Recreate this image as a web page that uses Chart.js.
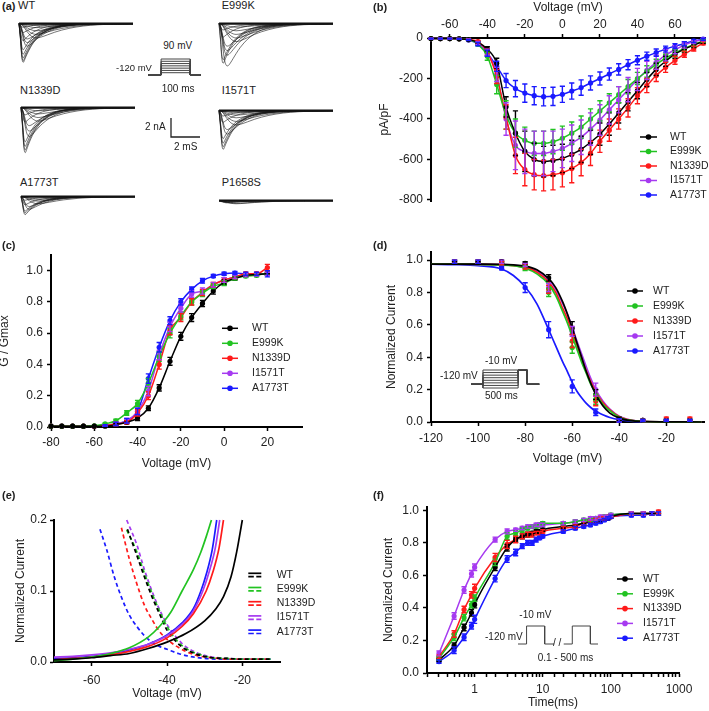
<!DOCTYPE html>
<html>
<head>
<meta charset="utf-8">
<script src="https://cdn.jsdelivr.net/npm/chart.js@4.4.1/dist/chart.umd.min.js"></script>
<style>
  body { margin: 0; background: #fff; }
  #fig { position: relative; width: 709px; height: 711px; overflow: hidden; font-family: "Liberation Sans", Arial, sans-serif; color: #222; }
  #fig canvas { position: absolute; }
  .t { position: absolute; white-space: nowrap; line-height: 1; }
  .p { font-weight: bold; font-size: 11px; }
  .f11 { font-size: 11px; }
  .f10 { font-size: 10px; }
</style>
</head>
<body>
<div id="fig">
  <canvas id="trWT" width="118" height="58" style="left:17px;top:18px"></canvas>
  <canvas id="trE999K" width="118" height="58" style="left:217px;top:18px"></canvas>
  <canvas id="trN1339D" width="118" height="58" style="left:19px;top:102px"></canvas>
  <canvas id="trI1571T" width="118" height="58" style="left:217px;top:105px"></canvas>
  <canvas id="trA1773T" width="118" height="58" style="left:19px;top:191px"></canvas>
  <canvas id="trP1658S" width="118" height="58" style="left:217px;top:195px"></canvas>
  <canvas id="protA" width="57" height="20" style="left:146px;top:57px"></canvas>
  <canvas id="scaleBar" width="33" height="23" style="left:169px;top:116px"></canvas>

  <canvas id="ivChart" width="354" height="240" style="left:355px;top:0px"></canvas>
  <canvas id="actChart" width="355" height="240" style="left:0px;top:240px"></canvas>
  <canvas id="inactChart" width="354" height="240" style="left:355px;top:240px"></canvas>
  <canvas id="winChart" width="355" height="231" style="left:0px;top:480px"></canvas>
  <canvas id="recChart" width="354" height="231" style="left:355px;top:480px"></canvas>
  <canvas id="protD" width="74" height="22" style="left:469px;top:368px"></canvas>
  <canvas id="protF" width="84" height="22" style="left:516px;top:624px"></canvas>

  <div class="t p" style="left:2px;top:0.6px">(a)</div>
  <div class="t f11" style="left:18px;top:0.4px">WT</div>
  <div class="t f11" style="left:221.7px;top:0.4px">E999K</div>
  <div class="t f11" style="left:20px;top:85px">N1339D</div>
  <div class="t f11" style="left:221.7px;top:85px">I1571T</div>
  <div class="t f11" style="left:20px;top:176.6px">A1773T</div>
  <div class="t f11" style="left:221.7px;top:176.6px">P1658S</div>
  <div class="t f10" style="left:163.3px;top:41px">90 mV</div>
  <div class="t" style="left:116px;top:62.6px;font-size:9.5px">-120 mV</div>
  <div class="t f10" style="left:161.7px;top:84.4px">100 ms</div>
  <div class="t f10" style="left:145px;top:122.4px">2 nA</div>
  <div class="t f10" style="left:174px;top:141.8px">2 mS</div>

  <div class="t p" style="left:373px;top:1.6px">(b)</div>
  <div class="t p" style="left:2px;top:239.6px">(c)</div>
  <div class="t p" style="left:373px;top:239.6px">(d)</div>
  <div class="t p" style="left:2px;top:490px">(e)</div>
  <div class="t p" style="left:373px;top:490px">(f)</div>

  <div class="t f10" style="left:485px;top:355.8px">-10 mV</div>
  <div class="t f10" style="left:440px;top:371.1px">-120 mV</div>
  <div class="t f10" style="left:485px;top:391.1px">500 ms</div>

  <div class="t f10" style="left:519.3px;top:610.1px">-10 mV</div>
  <div class="t f10" style="left:485px;top:631.8px">-120 mV</div>
  <div class="t f10" style="left:553px;top:638.1px">/ /</div>
  <div class="t f10" style="left:537.7px;top:653.4px">0.1 - 500 ms</div>
</div>

<script>
// ---------- data ----------
const seriesNames = ["WT", "E999K", "N1339D", "I1571T", "A1773T"];
const seriesColors = ["#000000", "#22c322", "#ff1a1a", "#a63af0", "#1a1aff"];

// (a) current traces: time in ms, peaks in nA with shape index
const traceTime = [0, 0.1, 0.2, 0.3, 0.4, 0.5, 0.6, 0.8, 1.0, 1.2, 1.5, 2.0, 2.5, 3.0, 4.0, 5.0, 6.0, 8.0];
const shapeFast = [0, 0.4, 0.88, 1.0, 0.93, 0.84, 0.76, 0.62, 0.5, 0.41, 0.3, 0.18, 0.11, 0.065, 0.025, 0.01, 0.004, 0];
const shapeMid = [0, 0.1, 0.35, 0.65, 0.88, 0.98, 1.0, 0.93, 0.82, 0.71, 0.56, 0.37, 0.24, 0.15, 0.06, 0.025, 0.01, 0];
const shapeSlow = [0, 0.02, 0.08, 0.18, 0.32, 0.47, 0.6, 0.82, 0.95, 1.0, 0.95, 0.78, 0.6, 0.45, 0.24, 0.12, 0.06, 0.01];
const traceShapes = [shapeFast, shapeMid, shapeSlow];
const traceBaseX = [0, 8];
const traceBaseY = [0, 0];

const tracesWT = [[4.3, 0], [4.1, 0], [3.8, 0], [3.4, 0], [2.9, 0], [2.5, 1], [2.1, 1], [1.7, 1], [1.6, 2], [1.2, 2], [0.8, 2], [0.45, 2], [0.2, 2], [1.9, 0], [1.0, 0], [0.4, 0]];
const tracesE999K = [[4.7, 1], [4.4, 0], [4.0, 0], [3.5, 1], [3.0, 1], [2.5, 1], [2.0, 2], [1.6, 2], [1.2, 2], [0.8, 2], [0.4, 2], [1.5, 0], [0.7, 0]];
const tracesN1339D = [[5.0, 0], [4.7, 0], [4.3, 0], [3.8, 0], [3.2, 1], [2.6, 1], [2.0, 1], [1.5, 2], [1.1, 2], [0.7, 2], [0.35, 2], [1.6, 0], [0.8, 0]];
const tracesI1571T = [[4.3, 0], [4.0, 0], [3.6, 0], [3.1, 0], [2.6, 1], [2.1, 1], [1.6, 2], [1.2, 2], [0.8, 2], [0.5, 2], [0.25, 2], [1.3, 0], [0.6, 0]];
const tracesA1773T = [[2.0, 0], [1.8, 0], [1.6, 0], [1.4, 1], [1.1, 1], [0.8, 2], [0.5, 2], [0.3, 2], [0.9, 0], [0.4, 0]];
const tracesP1658S = [[0.35, 2], [0.3, 2], [0.25, 1], [0.2, 1], [0.15, 0], [0.1, 0]];

// (a) step protocol and scale bar
const stepProtX = [-45, 0, 0, 100, 100, 137];
const stepHold = -120;
const stepLevels = [-90, -60, -30, 0, 30, 60, 90];
const scaleBarX = [0, 0, 2];
const scaleBarY = [2, 0, 0];

// tick values
const ivVoltTicks = [-60, -40, -20, 0, 20, 40, 60];
const ivCurrentTicks = [-800, -600, -400, -200, 0];
const actVoltTicks = [-80, -60, -40, -20, 0, 20];
const inactVoltTicks = [-120, -100, -80, -60, -40, -20];
const winVoltTicks = [-60, -40, -20];
const fractionTicks = [0, 0.2, 0.4, 0.6, 0.8, 1.0];
const winTicks = [0, 0.1, 0.2];

// (b) I-V
const ivVolts = [-70, -65, -60, -55, -50, -45, -40, -35, -30, -25, -20, -15, -10, -5, 0, 5, 10, 15, 20, 25, 30, 35, 40, 45, 50, 55, 60, 65, 70, 75];
const ivWT = [-3, -3, -3, -4, -8, -22, -55, -125, -340, -470, -560, -600, -610, -605, -595, -575, -550, -515, -475, -425, -370, -315, -260, -205, -155, -115, -80, -55, -35, -18];
const ivE999K = [-3, -3, -3, -4, -8, -30, -90, -230, -380, -470, -505, -520, -520, -512, -495, -470, -440, -400, -360, -320, -280, -240, -200, -165, -130, -100, -75, -52, -32, -15];
const ivN1339D = [-3, -3, -3, -4, -8, -18, -70, -190, -390, -580, -650, -675, -680, -675, -665, -645, -615, -570, -510, -455, -400, -345, -285, -235, -185, -145, -110, -80, -52, -25];
const ivI1571T = [-3, -3, -3, -4, -8, -25, -70, -180, -400, -530, -560, -570, -570, -560, -545, -520, -490, -450, -405, -355, -305, -255, -205, -160, -120, -85, -58, -35, -18, -8];
const ivA1773T = [-3, -3, -3, -4, -10, -30, -75, -140, -210, -250, -272, -285, -290, -288, -278, -262, -245, -222, -200, -178, -155, -132, -110, -90, -72, -55, -40, -28, -15, -6];
const ivWTErr = [2, 2, 2, 2, 3, 6, 12, 25, 50, 110, 100, 80, 75, 75, 70, 70, 65, 60, 55, 55, 50, 45, 40, 35, 30, 25, 20, 15, 12, 8];
const ivE999KErr = [2, 2, 2, 2, 3, 8, 20, 45, 70, 70, 65, 60, 60, 60, 60, 55, 55, 50, 50, 45, 40, 35, 30, 28, 25, 20, 18, 15, 10, 6];
const ivN1339DErr = [2, 2, 2, 2, 3, 6, 15, 35, 60, 90, 80, 75, 75, 75, 70, 70, 65, 60, 55, 55, 50, 45, 40, 35, 30, 25, 20, 15, 12, 8];
const ivI1571TErr = [2, 2, 2, 2, 3, 8, 15, 35, 80, 120, 110, 110, 110, 100, 95, 90, 85, 80, 75, 70, 65, 60, 55, 45, 35, 28, 20, 15, 10, 6];
const ivA1773TErr = [2, 2, 2, 2, 3, 8, 15, 25, 35, 40, 45, 45, 45, 45, 40, 40, 38, 35, 32, 30, 28, 25, 22, 20, 18, 15, 12, 10, 8, 5];

// (c) activation G/Gmax
const actVolts = [-80, -75, -70, -65, -60, -55, -50, -45, -40, -35, -30, -25, -20, -15, -10, -5, 0, 5, 10, 15, 20];
const actWT = [0.005, 0.005, 0.005, 0.005, 0.005, 0.005, 0.015, 0.03, 0.057, 0.12, 0.25, 0.42, 0.58, 0.7, 0.79, 0.87, 0.925, 0.95, 0.97, 0.975, 0.98];
const actE999K = [0.005, 0.005, 0.005, 0.005, 0.008, 0.02, 0.04, 0.09, 0.15, 0.28, 0.45, 0.6, 0.71, 0.8, 0.855, 0.9, 0.92, 0.95, 0.965, 0.97, 0.985];
const actN1339D = [0.005, 0.005, 0.005, 0.005, 0.005, 0.01, 0.02, 0.03, 0.09, 0.2, 0.4, 0.62, 0.7, 0.8, 0.86, 0.91, 0.94, 0.96, 0.98, 0.98, 1.02];
const actI1571T = [0.005, 0.005, 0.005, 0.005, 0.005, 0.01, 0.02, 0.04, 0.1, 0.23, 0.46, 0.64, 0.76, 0.85, 0.87, 0.91, 0.94, 0.96, 0.97, 0.975, 0.98];
const actA1773T = [0.005, 0.005, 0.005, 0.005, 0.005, 0.01, 0.02, 0.04, 0.1, 0.31, 0.51, 0.68, 0.8, 0.88, 0.935, 0.965, 0.98, 0.985, 0.98, 0.98, 0.98];
const actWTErr = [0, 0, 0, 0, 0, 0, 0.005, 0.01, 0.015, 0.015, 0.02, 0.025, 0.025, 0.025, 0.02, 0.02, 0.015, 0.01, 0.01, 0.01, 0.01];
const actE999KErr = [0, 0, 0, 0, 0, 0.005, 0.01, 0.015, 0.02, 0.03, 0.03, 0.03, 0.025, 0.02, 0.02, 0.015, 0.015, 0.01, 0.01, 0.01, 0.015];
const actN1339DErr = [0, 0, 0, 0, 0, 0.005, 0.01, 0.01, 0.02, 0.025, 0.03, 0.03, 0.025, 0.02, 0.02, 0.015, 0.015, 0.01, 0.01, 0.01, 0.02];
const actI1571TErr = [0, 0, 0, 0, 0, 0.005, 0.01, 0.015, 0.02, 0.03, 0.03, 0.03, 0.025, 0.02, 0.02, 0.015, 0.015, 0.01, 0.01, 0.01, 0.01];
const actA1773TErr = [0, 0, 0, 0, 0, 0.005, 0.01, 0.015, 0.02, 0.03, 0.03, 0.025, 0.02, 0.015, 0.015, 0.01, 0.01, 0.01, 0.01, 0.01, 0.02];

// (d) steady-state inactivation
const inactVolts = [-110, -100, -90, -80, -70, -60, -50, -40, -30, -20, -10];
const inactWT = [0.99, 0.99, 0.99, 0.98, 0.89, 0.58, 0.17, 0.02, 0.01, 0.01, 0.01];
const inactE999K = [0.99, 0.99, 0.98, 0.95, 0.8, 0.46, 0.14, 0.01, 0.01, 0.01, 0.01];
const inactN1339D = [0.99, 0.99, 0.98, 0.96, 0.82, 0.5, 0.13, 0.01, 0.01, 0.02, 0.02];
const inactI1571T = [0.99, 0.99, 0.99, 0.97, 0.83, 0.56, 0.2, 0.01, 0.01, 0.01, 0.01];
const inactA1773T = [0.99, 0.99, 0.95, 0.83, 0.57, 0.22, 0.06, 0.01, 0.01, 0.01, 0.01];
const inactWTErr = [0.01, 0.01, 0.01, 0.01, 0.02, 0.04, 0.03, 0.01, 0.005, 0.005, 0.005];
const inactE999KErr = [0.01, 0.01, 0.01, 0.015, 0.025, 0.035, 0.03, 0.01, 0.005, 0.005, 0.005];
const inactN1339DErr = [0.01, 0.01, 0.01, 0.015, 0.025, 0.04, 0.03, 0.01, 0.005, 0.01, 0.01];
const inactI1571TErr = [0.01, 0.01, 0.01, 0.01, 0.025, 0.03, 0.04, 0.01, 0.005, 0.005, 0.005];
const inactA1773TErr = [0.01, 0.01, 0.01, 0.03, 0.05, 0.04, 0.02, 0.01, 0.005, 0.005, 0.005];
const inactFitVolts = [-120, -110, -100, -90, -85, -80, -75, -70, -67, -64, -62, -60, -58, -56, -54, -52, -50, -47, -44, -40, -35, -30, -20, -5];
const inactFitWT = [0.975, 0.975, 0.975, 0.973, 0.97, 0.963, 0.94, 0.885, 0.83, 0.74, 0.665, 0.58, 0.49, 0.4, 0.31, 0.235, 0.17, 0.1, 0.055, 0.024, 0.008, 0.003, 0.001, 0];
const inactFitE999K = [0.975, 0.975, 0.974, 0.97, 0.965, 0.95, 0.915, 0.85, 0.78, 0.68, 0.61, 0.53, 0.45, 0.37, 0.3, 0.23, 0.18, 0.11, 0.07, 0.03, 0.01, 0.004, 0.001, 0];
const inactFitN1339D = [0.975, 0.975, 0.974, 0.971, 0.966, 0.955, 0.925, 0.865, 0.8, 0.7, 0.635, 0.555, 0.475, 0.39, 0.315, 0.245, 0.185, 0.12, 0.075, 0.033, 0.011, 0.004, 0.001, 0];
const inactFitI1571T = [0.975, 0.975, 0.975, 0.972, 0.968, 0.958, 0.932, 0.88, 0.82, 0.73, 0.665, 0.585, 0.5, 0.42, 0.34, 0.265, 0.2, 0.13, 0.08, 0.036, 0.012, 0.004, 0.001, 0];
const inactFitA1773T = [0.975, 0.972, 0.965, 0.945, 0.905, 0.835, 0.73, 0.57, 0.47, 0.37, 0.31, 0.245, 0.19, 0.15, 0.115, 0.088, 0.066, 0.045, 0.028, 0.014, 0.005, 0.002, 0.001, 0];
const inactProtX = [-170, 0, 0, 500, 500, 630, 630, 800];
const inactHold = -120;
const inactTest = -10;
const inactLevels = [-150, -130, -110, -90, -70, -50, -30, -10];

// (e) window currents: solid = activation, dashed = inactivation
const winActWTV = [-70, -65, -60, -55, -50, -45, -40, -35, -30, -27, -25, -23, -21.5, -20];
const winActWT = [0.003, 0.004, 0.006, 0.009, 0.012, 0.019, 0.028, 0.04, 0.058, 0.075, 0.092, 0.12, 0.155, 0.2];
const winActE999KV = [-70, -65, -60, -55, -50, -45, -42, -39, -36, -33, -31, -29.5, -28.2];
const winActE999K = [0.002, 0.004, 0.007, 0.012, 0.02, 0.035, 0.05, 0.07, 0.1, 0.13, 0.155, 0.178, 0.2];
const winActN1339DV = [-70, -65, -60, -55, -50, -45, -40, -36, -33, -29.6, -27.8, -26.2, -25];
const winActN1339D = [0.003, 0.005, 0.007, 0.01, 0.015, 0.022, 0.034, 0.05, 0.068, 0.1, 0.127, 0.16, 0.2];
const winActI1571TV = [-70, -65, -60, -55, -50, -45, -40, -36, -33, -30.5, -28.8, -27.2, -26];
const winActI1571T = [0.007, 0.008, 0.01, 0.013, 0.018, 0.025, 0.037, 0.053, 0.072, 0.1, 0.127, 0.16, 0.2];
const winActA1773TV = [-70, -65, -60, -55, -50, -45, -40, -36, -33, -31, -29.5, -28, -26.8];
const winActA1773T = [0.005, 0.006, 0.008, 0.012, 0.017, 0.025, 0.038, 0.055, 0.075, 0.1, 0.125, 0.158, 0.2];
const winInWTV = [-50.5, -48, -46, -44, -42, -40, -38, -36, -34, -31, -28, -24, -20, -12.5];
const winInWT = [0.187, 0.15, 0.12, 0.092, 0.068, 0.045, 0.031, 0.021, 0.015, 0.009, 0.006, 0.005, 0.004, 0.004];
const winInE999KV = [-50.7, -48, -46, -44, -42, -40, -38, -36, -34, -31, -28, -24, -20, -12.5];
const winInE999K = [0.186, 0.155, 0.125, 0.097, 0.072, 0.05, 0.034, 0.023, 0.016, 0.01, 0.006, 0.005, 0.004, 0.004];
const winInN1339DV = [-52.1, -50, -48, -46, -44, -42, -40, -38, -35, -32, -28, -24, -20, -12.5];
const winInN1339D = [0.189, 0.145, 0.11, 0.08, 0.06, 0.043, 0.032, 0.024, 0.015, 0.009, 0.006, 0.004, 0.004, 0.004];
const winInI1571TV = [-50.7, -48, -46, -44, -42, -40, -38, -36, -34, -31, -28, -24, -20, -12.5];
const winInI1571T = [0.2, 0.165, 0.13, 0.1, 0.074, 0.053, 0.038, 0.026, 0.018, 0.011, 0.007, 0.005, 0.004, 0.004];
const winInA1773TV = [-57.8, -56, -54, -52, -50, -48, -46, -44, -42, -40, -37, -34, -30, -25, -20, -12.5];
const winInA1773T = [0.187, 0.158, 0.12, 0.09, 0.066, 0.05, 0.037, 0.028, 0.022, 0.018, 0.012, 0.008, 0.005, 0.004, 0.004, 0.004];

// (f) recovery from inactivation
const recTimes = [0.3, 0.5, 0.7, 0.9, 1, 2, 3, 4, 5, 6, 7, 8, 9, 10, 20, 30, 40, 50, 60, 70, 80, 90, 100, 200, 300, 400, 500];
const recWT = [0.08, 0.17, 0.28, 0.37, 0.42, 0.65, 0.77, 0.82, 0.84, 0.85, 0.86, 0.87, 0.87, 0.88, 0.9, 0.91, 0.92, 0.93, 0.94, 0.94, 0.95, 0.95, 0.96, 0.98, 0.98, 0.98, 0.98];
const recE999K = [0.09, 0.22, 0.34, 0.42, 0.46, 0.68, 0.84, 0.86, 0.88, 0.89, 0.9, 0.9, 0.91, 0.92, 0.92, 0.93, 0.94, 0.94, 0.95, 0.95, 0.96, 0.96, 0.97, 0.98, 0.98, 0.98, 0.98];
const recN1339D = [0.1, 0.24, 0.39, 0.48, 0.52, 0.71, 0.79, 0.82, 0.84, 0.85, 0.85, 0.86, 0.86, 0.87, 0.89, 0.9, 0.92, 0.93, 0.94, 0.95, 0.95, 0.96, 0.96, 0.98, 0.98, 0.98, 0.99];
const recI1571T = [0.12, 0.35, 0.51, 0.61, 0.65, 0.82, 0.87, 0.88, 0.89, 0.9, 0.9, 0.91, 0.91, 0.91, 0.92, 0.93, 0.94, 0.95, 0.95, 0.96, 0.96, 0.96, 0.97, 0.98, 0.98, 0.98, 0.98];
const recA1773T = [0.07, 0.14, 0.22, 0.29, 0.33, 0.58, 0.7, 0.74, 0.78, 0.8, 0.8, 0.82, 0.83, 0.84, 0.87, 0.89, 0.9, 0.91, 0.92, 0.93, 0.94, 0.95, 0.96, 0.97, 0.97, 0.98, 0.98];
const recWTErr = [0.01, 0.015, 0.02, 0.02, 0.02, 0.02, 0.02, 0.015, 0.015, 0.015, 0.01, 0.01, 0.01, 0.01, 0.01, 0.01, 0.01, 0.01, 0.01, 0.01, 0.01, 0.01, 0.01, 0.01, 0.01, 0.01, 0.01];
const recE999KErr = [0.01, 0.02, 0.02, 0.02, 0.02, 0.02, 0.02, 0.015, 0.015, 0.01, 0.01, 0.01, 0.01, 0.01, 0.01, 0.01, 0.01, 0.01, 0.01, 0.01, 0.01, 0.01, 0.01, 0.01, 0.01, 0.01, 0.01];
const recN1339DErr = [0.01, 0.02, 0.02, 0.02, 0.025, 0.025, 0.025, 0.02, 0.015, 0.015, 0.015, 0.01, 0.01, 0.01, 0.01, 0.01, 0.01, 0.01, 0.01, 0.01, 0.01, 0.01, 0.01, 0.01, 0.01, 0.01, 0.01];
const recI1571TErr = [0.015, 0.02, 0.02, 0.02, 0.02, 0.015, 0.015, 0.01, 0.01, 0.01, 0.01, 0.01, 0.01, 0.01, 0.01, 0.01, 0.01, 0.01, 0.01, 0.01, 0.01, 0.01, 0.01, 0.01, 0.01, 0.01, 0.01];
const recA1773TErr = [0.01, 0.02, 0.02, 0.02, 0.025, 0.02, 0.02, 0.02, 0.015, 0.015, 0.015, 0.015, 0.01, 0.01, 0.01, 0.01, 0.01, 0.01, 0.01, 0.01, 0.01, 0.01, 0.01, 0.01, 0.01, 0.01, 0.01];
const recProtX1 = [0, 9, 9, 28, 28, 38];
const recProtX2 = [48, 57, 57, 76, 76, 84];
const recProtY = [-120, -120, -10, -10, -120, -120];

// ---------- helpers ----------
const FONT = "'Liberation Sans', Arial, sans-serif";
Chart.defaults.font.family = FONT;
Chart.defaults.color = "#222";

function pairs(xs, ys) {
  return xs.map((x, i) => ({ x: x, y: ys[i] }));
}

// error bars drawn through the chart's own y scale
const errorBars = {
  id: "errorBars",
  afterDatasetsDraw(chart) {
    const ctx = chart.ctx;
    const ys = chart.scales.y;
    chart.data.datasets.forEach((ds, i) => {
      if (!ds.errors) return;
      const meta = chart.getDatasetMeta(i);
      ctx.save();
      ctx.strokeStyle = ds.borderColor;
      ctx.lineWidth = 1.4;
      meta.data.forEach((pt, j) => {
        const e = ds.errors[j];
        if (!e) return;
        const v = ds.data[j].y;
        const y1 = ys.getPixelForValue(v + e);
        const y2 = ys.getPixelForValue(v - e);
        ctx.beginPath();
        ctx.moveTo(pt.x, y1);
        ctx.lineTo(pt.x, y2);
        ctx.moveTo(pt.x - 2.6, y1);
        ctx.lineTo(pt.x + 2.6, y1);
        ctx.moveTo(pt.x - 2.6, y2);
        ctx.lineTo(pt.x + 2.6, y2);
        ctx.stroke();
      });
      ctx.restore();
    });
  },
};

// legend placed at a fixed spot inside each panel
const panelLegend = {
  id: "panelLegend",
  afterDraw(chart, args, o) {
    if (!o || o.x == null) return;
    const ctx = chart.ctx;
    ctx.save();
    ctx.font = "10.5px " + FONT;
    ctx.textBaseline = "middle";
    seriesNames.forEach((name, i) => {
      const y = o.y + i * o.dy;
      const c = seriesColors[i];
      ctx.strokeStyle = c;
      ctx.fillStyle = c;
      if (o.dashed) {
        ctx.lineWidth = 1.7;
        ctx.beginPath();
        ctx.moveTo(o.x, y - 1.7);
        ctx.lineTo(o.x + o.len, y - 1.7);
        ctx.stroke();
        ctx.setLineDash([5.5, 2.5]);
        ctx.beginPath();
        ctx.moveTo(o.x, y + 1.7);
        ctx.lineTo(o.x + o.len, y + 1.7);
        ctx.stroke();
        ctx.setLineDash([]);
      } else {
        ctx.lineWidth = 1.5;
        ctx.beginPath();
        ctx.moveTo(o.x, y);
        ctx.lineTo(o.x + o.len, y);
        ctx.stroke();
        ctx.beginPath();
        ctx.arc(o.x + o.len / 2, y, 2.8, 0, Math.PI * 2);
        ctx.fill();
      }
      ctx.fillStyle = "#222";
      ctx.fillText(name, o.textX, y);
    });
    ctx.restore();
  },
};

function axis(o) {
  const s = {
    type: o.type || "linear",
    position: o.position,
    min: o.min,
    max: o.max,
    border: { color: "#000", width: 2 },
    grid: { drawOnChartArea: false, color: "#000", tickLength: 4, tickWidth: 1.5 },
    ticks: { padding: o.pad, autoSkip: false, maxRotation: 0, color: "#222", font: { size: 12 } },
    title: { display: true, text: o.title, color: "#222", font: { size: 12, lineHeight: o.titleLh || 1.2 }, padding: o.titlePad },
    afterFit(scale) {
      if (o.width) scale.width = o.width;
      if (o.height) scale.height = o.height;
      scale.paddingTop = 0;
      scale.paddingBottom = 0;
      scale.paddingLeft = 0;
      scale.paddingRight = 0;
    },
  };
  if (o.ticks) {
    s.afterBuildTicks = (scale) => {
      scale.ticks = o.ticks.map((v) => ({ value: v }));
    };
  }
  if (o.cb) s.ticks.callback = o.cb;
  return s;
}

function panelOptions(o) {
  return {
    responsive: false,
    animation: false,
    layout: { padding: o.padding },
    scales: { x: o.x, y: o.y },
    plugins: {
      legend: { display: false },
      tooltip: { enabled: false },
      panelLegend: o.legend,
    },
  };
}

function pointSeries(xs, ys, errs, i, withLine) {
  const c = seriesColors[i];
  return {
    data: pairs(xs, ys),
    errors: errs,
    borderColor: c,
    backgroundColor: c,
    pointBackgroundColor: c,
    borderWidth: 1.5,
    pointRadius: 2.6,
    pointBorderWidth: 0,
    showLine: withLine,
    cubicInterpolationMode: "monotone",
    clip: false,
  };
}

function curveSeries(xs, ys, i, dash) {
  return {
    data: pairs(xs, ys),
    borderColor: seriesColors[i],
    borderWidth: 1.7,
    borderDash: dash || [],
    pointRadius: 0,
    cubicInterpolationMode: "monotone",
    clip: false,
  };
}

function schematic(id, datasets, xr, yr) {
  return new Chart(document.getElementById(id), {
    type: "line",
    data: { datasets: datasets },
    options: {
      responsive: false,
      animation: false,
      layout: { padding: 2 },
      plugins: { legend: { display: false }, tooltip: { enabled: false } },
      scales: {
        x: { type: "linear", display: false, min: xr[0], max: xr[1] },
        y: { display: false, min: yr[0], max: yr[1] },
      },
      elements: { point: { radius: 0 } },
    },
  });
}

function fixed1(v) {
  return v.toFixed(1);
}

function plain(v) {
  return String(v);
}

// ---------- (a) traces ----------
function traceFamily(id, peaks) {
  const sets = peaks.map((p) => ({
    data: pairs(traceTime, traceShapes[p[1]].map((s) => -p[0] * s)),
    borderColor: "rgba(20,20,20,0.85)",
    borderWidth: 0.7,
    cubicInterpolationMode: "monotone",
    clip: false,
  }));
  sets.push({ data: pairs(traceBaseX, traceBaseY), borderColor: "#111", borderWidth: 2.2, clip: false });
  schematic(id, sets, [0, 8], [-5.6, 0.4]);
}

traceFamily("trWT", tracesWT);
traceFamily("trE999K", tracesE999K);
traceFamily("trN1339D", tracesN1339D);
traceFamily("trI1571T", tracesI1571T);
traceFamily("trA1773T", tracesA1773T);
traceFamily("trP1658S", tracesP1658S);

schematic(
  "protA",
  stepLevels.map((v) => ({
    data: pairs(stepProtX, [stepHold, stepHold, v, v, stepHold, stepHold]),
    borderColor: "#444",
    borderWidth: 1,
    clip: false,
  })),
  [-45, 137],
  [-120, 90]
);

schematic(
  "scaleBar",
  [{ data: pairs(scaleBarX, scaleBarY), borderColor: "#222", borderWidth: 1.3, clip: false }],
  [0, 2],
  [0, 2]
);

// ---------- (b) I-V ----------
const ivValues = [ivWT, ivE999K, ivN1339D, ivI1571T, ivA1773T];
const ivErrors = [ivWTErr, ivE999KErr, ivN1339DErr, ivI1571TErr, ivA1773TErr];

new Chart(document.getElementById("ivChart"), {
  type: "line",
  data: { datasets: ivValues.map((vals, i) => pointSeries(ivVolts, vals, ivErrors[i], i, true)) },
  options: panelOptions({
    padding: { top: 0, right: 0, bottom: 39, left: 0 },
    x: axis({ position: "top", min: -70, max: 76, ticks: ivVoltTicks, pad: 2, height: 38, title: "Voltage (mV)", titlePad: { top: 0 }, cb: plain }),
    y: axis({ position: "left", min: -805, max: 0, ticks: ivCurrentTicks, pad: 4, width: 76, title: "pA/pF", titlePad: { top: 22.8 }, cb: plain }),
    legend: { x: 285, y: 137, dy: 14.5, len: 17, textX: 315 },
  }),
  plugins: [errorBars, panelLegend],
});

// ---------- (c) activation ----------
const actValues = [actWT, actE999K, actN1339D, actI1571T, actA1773T];
const actErrors = [actWTErr, actE999KErr, actN1339DErr, actI1571TErr, actA1773TErr];

new Chart(document.getElementById("actChart"), {
  type: "line",
  data: { datasets: actValues.map((vals, i) => pointSeries(actVolts, vals, actErrors[i], i, true)) },
  options: panelOptions({
    padding: { top: 15, right: 53, bottom: 0, left: 0 },
    x: axis({ position: "bottom", min: -80, max: 36, ticks: actVoltTicks, pad: 4, height: 53, title: "Voltage (mV)", titlePad: { bottom: 8.8 }, cb: plain }),
    y: axis({ position: "left", min: 0, max: 1.1, ticks: fractionTicks, pad: 4, width: 51, title: "G / Gmax", titleLh: 0.7, titlePad: { top: 0 }, cb: fixed1 }),
    legend: { x: 222, y: 88.3, dy: 15, len: 16, textX: 252 },
  }),
  plugins: [errorBars, panelLegend],
});

// ---------- (d) inactivation ----------
const inactValues = [inactWT, inactE999K, inactN1339D, inactI1571T, inactA1773T];
const inactErrors = [inactWTErr, inactE999KErr, inactN1339DErr, inactI1571TErr, inactA1773TErr];
const inactFits = [inactFitWT, inactFitE999K, inactFitN1339D, inactFitI1571T, inactFitA1773T];

new Chart(document.getElementById("inactChart"), {
  type: "line",
  data: {
    datasets: inactFits
      .map((vals, i) => curveSeries(inactFitVolts, vals, i))
      .concat(inactValues.map((vals, i) => pointSeries(inactVolts, vals, inactErrors[i], i, false))),
  },
  options: panelOptions({
    padding: { top: 12, right: 5, bottom: 0, left: 0 },
    x: axis({ position: "bottom", min: -120, max: -4, ticks: inactVoltTicks, pad: 5.5, height: 58, title: "Voltage (mV)", titlePad: { bottom: 14.5 }, cb: plain }),
    y: axis({ position: "left", min: 0, max: 1.05, ticks: fractionTicks, pad: 4, width: 76, title: "Normalized Current", titlePad: { top: 29.5 }, cb: fixed1 }),
    legend: { x: 272, y: 51, dy: 15, len: 16, textX: 298 },
  }),
  plugins: [errorBars, panelLegend],
});

schematic(
  "protD",
  inactLevels.map((v) => ({
    data: pairs(inactProtX, [inactHold, inactHold, v, v, inactTest, inactTest, inactHold, inactHold]),
    borderColor: "#444",
    borderWidth: 1,
    clip: false,
  })),
  [-170, 825],
  [-150, -10]
);

// ---------- (e) window currents ----------
const winActX = [winActWTV, winActE999KV, winActN1339DV, winActI1571TV, winActA1773TV];
const winActY = [winActWT, winActE999K, winActN1339D, winActI1571T, winActA1773T];
const winInX = [winInWTV, winInE999KV, winInN1339DV, winInI1571TV, winInA1773TV];
const winInY = [winInWT, winInE999K, winInN1339D, winInI1571T, winInA1773T];

new Chart(document.getElementById("winChart"), {
  type: "line",
  data: {
    datasets: winActY
      .map((ys, i) => curveSeries(winActX[i], ys, i))
      .concat(winInY.map((ys, i) => curveSeries(winInX[i], ys, i, [4, 3]))),
  },
  options: panelOptions({
    padding: { top: 40, right: 75, bottom: 0, left: 0 },
    x: axis({ position: "bottom", min: -70, max: -10, ticks: winVoltTicks, pad: 7, height: 49, title: "Voltage (mV)", titlePad: { bottom: 10.5 }, cb: plain }),
    y: axis({ position: "left", min: 0, max: 0.2, ticks: winTicks, pad: 3, width: 54, title: "Normalized Current", titlePad: { top: 13.5 }, cb: fixed1 }),
    legend: { x: 248.3, y: 95, dy: 14.2, len: 13, textX: 276.7, dashed: true },
  }),
  plugins: [panelLegend],
});

// ---------- (f) recovery ----------
const recValues = [recWT, recE999K, recN1339D, recI1571T, recA1773T];
const recErrors = [recWTErr, recE999KErr, recN1339DErr, recI1571TErr, recA1773TErr];

function decadeLabel(v) {
  const l = Math.log10(v);
  return Math.abs(l - Math.round(l)) < 1e-6 && v >= 1 ? String(Math.round(v)) : "";
}

new Chart(document.getElementById("recChart"), {
  type: "line",
  data: { datasets: recValues.map((vals, i) => pointSeries(recTimes, vals, recErrors[i], i, true)) },
  options: panelOptions({
    padding: { top: 27, right: 30, bottom: 0, left: 0 },
    x: axis({ type: "logarithmic", position: "bottom", min: 0.2, max: 1000, pad: 5, height: 38, title: "Time(ms)", titlePad: { bottom: 1 }, cb: decadeLabel }),
    y: axis({ position: "left", min: 0, max: 1.02, ticks: fractionTicks, pad: 4, width: 72, title: "Normalized Current", titlePad: { top: 26 }, cb: fixed1 }),
    legend: { x: 262, y: 99, dy: 14.8, len: 16, textX: 288 },
  }),
  plugins: [errorBars, panelLegend],
});

schematic(
  "protF",
  [
    { data: pairs(recProtX1, recProtY), borderColor: "#444", borderWidth: 1, clip: false },
    { data: pairs(recProtX2, recProtY), borderColor: "#444", borderWidth: 1, clip: false },
  ],
  [0, 84],
  [-120, -10]
);
</script>
</body>
</html>
